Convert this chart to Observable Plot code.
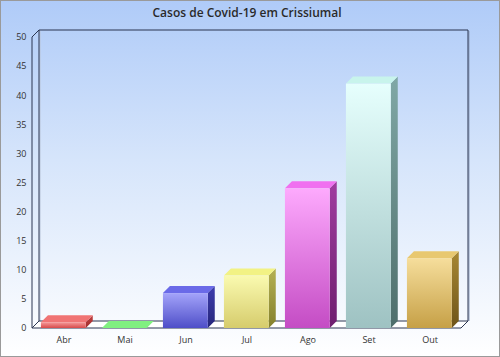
<!DOCTYPE html>
<html>
<head>
<meta charset="utf-8">
<script src="https://cdn.jsdelivr.net/npm/d3@7"></script>
<script src="https://cdn.jsdelivr.net/npm/@observablehq/plot@0.6"></script>
<style>
  html, body { margin: 0; padding: 0; background: #fff; }
  svg { display: block; }
</style>
</head>
<body>
<div id="chart"></div>
<script>
const title = "Casos de Covid-19 em Crissiumal";
const months = ["Abr", "Mai", "Jun", "Jul", "Ago", "Set", "Out"];
const cases = [1, 0, 6, 9, 24, 42, 12];
const yTicks = [0, 5, 10, 15, 20, 25, 30, 35, 40, 45, 50];
// [front top, front bottom, top face, side top, side bottom]
const palette = [
  ["#f59a9a", "#d84a4a", "#f07474", "#c04040", "#a02c2c"],
  ["#90f490", "#60d860", "#80f080", "#50b050", "#389038"],
  ["#a4a4fa", "#4e4ec8", "#6a6ae8", "#3c3cae", "#26267a"],
  ["#fafab0", "#d6cc6c", "#f2f284", "#b4b054", "#84802c"],
  ["#fdaafd", "#c44cc4", "#f070f0", "#a03ca0", "#6e1e6e"],
  ["#e6fffd", "#9ec2c2", "#c8f4ec", "#80a8a6", "#4e6e6c"],
  ["#f6de9c", "#c6a046", "#e8c870", "#a88834", "#6e5418"]
];

const data = months.map((m, i) => ({month: m, value: cases[i], i}));
const DX = 7, DY = -7;

function boxRender(index, scales, values, dims) {
  const g = d3.create("svg:g");
  const x0 = dims.marginLeft, x1 = dims.width - dims.marginRight;
  const yb = scales.y(0), yt = scales.y(50);
  g.append("polygon")
    .attr("points", [[x0, yb], [x1, yb], [x1 + DX, yb + DY], [x0 + DX, yb + DY]].join(" "))
    .attr("fill", "#fff");
  const line = (a, b, c = "#2a3550") => g.append("line")
    .attr("x1", a[0]).attr("y1", a[1]).attr("x2", b[0]).attr("y2", b[1])
    .attr("stroke", c).attr("stroke-width", 1);
  line([x0 + DX + 1, yt + DY + 1], [x0 + DX + 1, yb + DY], "#b8c4d8");
  line([x1 + DX + 1, yt + DY + 1], [x1 + DX + 1, yb + DY], "#8ea0c0");
  line([x0 + DX, yt + DY], [x1 + DX, yt + DY]);
  line([x0 + DX, yt + DY], [x0 + DX, yb + DY]);
  line([x1 + DX, yt + DY], [x1 + DX, yb + DY]);
  line([x0 + DX, yb + DY], [x1 + DX, yb + DY]);
  line([x0, yt], [x0, yb]);
  line([x0, yt], [x0 + DX, yt + DY]);
  line([x0, yb], [x1, yb]);
  line([x0, yb], [x0 + DX, yb + DY]);
  line([x1, yb], [x1 + DX, yb + DY]);
  return g.node();
}

function barsRender(index, scales, values, dims) {
  const g = d3.create("svg:g");
  const defs = g.append("defs");
  const bw = scales.x.bandwidth();
  const fw = bw * 0.735;
  const off = bw * 0.13;
  for (const i of index) {
    const d = data[i];
    const p = palette[d.i];
    const fx0 = scales.x(d.month) + off, fx1 = fx0 + fw;
    const yb = scales.y(0), yt = scales.y(d.value);
    const gf = defs.append("linearGradient").attr("id", "gf" + i)
      .attr("x1", 0).attr("y1", 0).attr("x2", 0).attr("y2", 1);
    gf.append("stop").attr("offset", 0).attr("stop-color", p[0]);
    gf.append("stop").attr("offset", 1).attr("stop-color", p[1]);
    const gs = defs.append("linearGradient").attr("id", "gs" + i)
      .attr("x1", 0).attr("y1", 0).attr("x2", 0).attr("y2", 1);
    gs.append("stop").attr("offset", 0).attr("stop-color", p[3]);
    gs.append("stop").attr("offset", 1).attr("stop-color", p[4]);
    g.append("polygon")
      .attr("points", [[fx1, yt], [fx1 + DX, yt + DY], [fx1 + DX, yb + DY], [fx1, yb]].join(" "))
      .attr("fill", `url(#gs${i})`);
    g.append("polygon")
      .attr("points", [[fx0, yt], [fx1, yt], [fx1 + DX, yt + DY], [fx0 + DX, yt + DY]].join(" "))
      .attr("fill", p[2]);
    if (yb - yt > 0) {
      g.append("rect").attr("x", fx0).attr("y", yt).attr("width", fw).attr("height", yb - yt)
        .attr("fill", `url(#gf${i})`);
    }
  }
  return g.node();
}

const plot = Plot.plot({
  width: 500,
  height: 357,
  marginLeft: 32,
  marginRight: 39,
  marginTop: 37,
  marginBottom: 29,
  style: {
    background: "linear-gradient(to bottom, #afcbf8 0%, #d6e5fb 45%, #ffffff 100%)",
    fontFamily: "'Open Sans', sans-serif",
    color: "#333",
    outline: "1px solid #9a9a9a",
    outlineOffset: "-1px",
    overflow: "visible"
  },
  x: {type: "band", domain: months, padding: 0, label: null},
  y: {domain: [0, 50], label: null},
  marks: [
    Plot.barY(data, {x: "month", y: "value", render: boxRender}),
    Plot.barY(data, {x: "month", y: "value", render: barsRender}),
    Plot.axisY({ticks: yTicks, tickSize: 0, tickPadding: 6, fontSize: 9, fill: "#333", label: null}),
    Plot.axisX({tickSize: 0, tickPadding: 8, fontSize: 9, fill: "#333", label: null}),
    Plot.text([title], {frameAnchor: "top", lineAnchor: "middle", dy: -24, fontSize: 12, fill: "#2a2a2a", fontWeight: 600})
  ]
});
document.getElementById("chart").appendChild(plot);
</script>
</body>
</html>
